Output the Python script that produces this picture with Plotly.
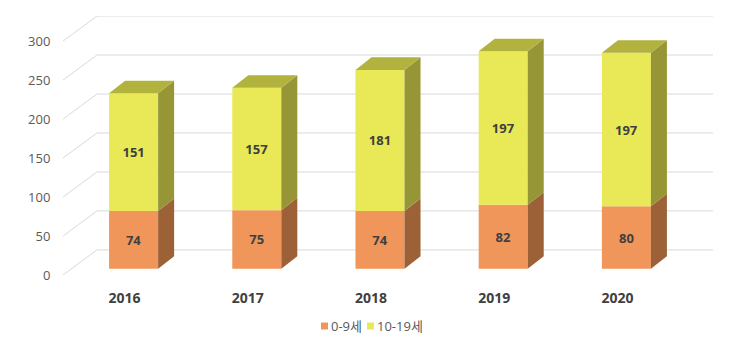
import plotly.graph_objects as go

years = ["2016", "2017", "2018", "2019", "2020"]
age_0_9 = [74, 75, 74, 82, 80]
age_10_19 = [151, 157, 181, 197, 197]
series_names = ["0-9세", "10-19세"]
y_ticks = [0, 50, 100, 150, 200, 250, 300]

# --- layout geometry (pixels) ---
W, H = 749, 344
PLOT_L, PLOT_R, PLOT_T, PLOT_B = 63, 713, 16, 275

# --- 3D projection parameters (in axis units) ---
PX_X = 123.2          # px per category unit
PX_Y = 0.7767         # px per value unit
WALL_DX = 34 / PX_X   # total depth of the wall (x)
WALL_DY = 25 / PX_Y   # total depth of the wall (y)
BAR_DX = 16 / PX_X    # bar depth
BAR_DY = 12.5 / PX_Y
OFF_DX = (WALL_DX - BAR_DX) / 2   # bar front plane offset
OFF_DY = (WALL_DY - BAR_DY) / 2
BAR_W = 0.398

front_cols = ["#F0965A", "#E9E957"]
side_cols = ["#9C6136", "#979637"]
top_col = "#B2B33F"
text_col = "#404040"
font_fam = "Open Sans, Noto Sans CJK KR, sans-serif"

xs = list(range(len(years)))
fig = go.Figure()

series = [age_0_9, age_10_19]
bases = []
cum = [OFF_DY] * len(years)
for s in series:
    bases.append(list(cum))
    cum = [c + v for c, v in zip(cum, s)]

# front faces
for k, s in enumerate(series):
    fig.add_trace(go.Bar(
        x=[x + OFF_DX for x in xs], y=s, base=bases[k], width=BAR_W,
        name=series_names[k], marker=dict(color=front_cols[k], line=dict(width=0)),
        text=[str(v) for v in s], textposition="inside", insidetextanchor="middle",
        textfont=dict(color=text_col, size=13, family=font_fam, weight="bold"),
        hoverinfo="skip", showlegend=False,
    ))

# side faces
for k, s in enumerate(series):
    px_, py_ = [], []
    for i, x in enumerate(xs):
        xr = x + OFF_DX + BAR_W / 2
        b0 = bases[k][i]
        b1 = b0 + s[i]
        px_ += [xr, xr + BAR_DX, xr + BAR_DX, xr, xr, None]
        py_ += [b0, b0 + BAR_DY, b1 + BAR_DY, b1, b0, None]
    fig.add_trace(go.Scatter(x=px_, y=py_, fill="toself", mode="lines",
                             line=dict(width=0), fillcolor=side_cols[k],
                             showlegend=False, hoverinfo="skip"))

# top faces (top of upper segment)
tx, ty = [], []
for i, x in enumerate(xs):
    xl = x + OFF_DX - BAR_W / 2
    xr = x + OFF_DX + BAR_W / 2
    t = cum[i]
    tx += [xl, xr, xr + BAR_DX, xl + BAR_DX, xl, None]
    ty += [t, t, t + BAR_DY, t + BAR_DY, t, None]
fig.add_trace(go.Scatter(x=tx, y=ty, fill="toself", mode="lines",
                         line=dict(width=0), fillcolor=top_col,
                         showlegend=False, hoverinfo="skip"))

# gridlines: back wall + left wall diagonals
x_left = -0.5
x_right = len(years) - 0.5 + WALL_DX
shapes = []
for v in y_ticks:
    shapes.append(dict(type="line", xref="x", yref="y", layer="below",
                       x0=x_left + WALL_DX, x1=x_right, y0=v + WALL_DY, y1=v + WALL_DY,
                       line=dict(color="#D9D9D9", width=1)))
    shapes.append(dict(type="line", xref="x", yref="y", layer="below",
                       x0=x_left, x1=x_left + WALL_DX, y0=v, y1=v + WALL_DY,
                       line=dict(color="#D9D9D9", width=1)))

# manual legend (compact, like the original)
def px2paper_x(px):
    return (px - PLOT_L) / (PLOT_R - PLOT_L)

def px2paper_y(py):
    return (PLOT_B - py) / (PLOT_B - PLOT_T)

annotations = []
legend_y = 326
legend_x = [321, 367]
for k, name in enumerate(series_names):
    x0 = legend_x[k]
    shapes.append(dict(type="rect", xref="paper", yref="paper",
                       x0=px2paper_x(x0), x1=px2paper_x(x0 + 7),
                       y0=px2paper_y(legend_y + 3.5), y1=px2paper_y(legend_y - 3.5),
                       fillcolor=front_cols[k], line=dict(width=0)))
    annotations.append(dict(xref="paper", yref="paper", x=px2paper_x(x0 + 8),
                            y=px2paper_y(legend_y), xanchor="left", yanchor="middle",
                            text=name, showarrow=False,
                            font=dict(size=13, color="#595959", family=font_fam)))

fig.update_layout(
    width=W, height=H,
    margin=dict(l=PLOT_L, r=W - PLOT_R, t=PLOT_T, b=H - PLOT_B, autoexpand=False),
    paper_bgcolor="white", plot_bgcolor="white",
    barmode="overlay",
    shapes=shapes,
    annotations=annotations,
    font=dict(family=font_fam, color="#595959"),
    xaxis=dict(range=[x_left, x_right], tickmode="array", tickvals=xs, ticktext=years,
               showgrid=False, zeroline=False, showline=False,
               ticks="outside", ticklen=10, tickcolor="rgba(0,0,0,0)",
               tickfont=dict(size=14, color="#404040", family=font_fam, weight="bold")),
    yaxis=dict(range=[0, 300 + WALL_DY], tickmode="array", tickvals=y_ticks,
               showgrid=False, zeroline=False, showline=False,
               ticks="outside", ticklen=9, tickcolor="rgba(0,0,0,0)",
               tickfont=dict(size=13, color="#595959", family=font_fam)),
    showlegend=False,
)

fig.write_html("out.html")
